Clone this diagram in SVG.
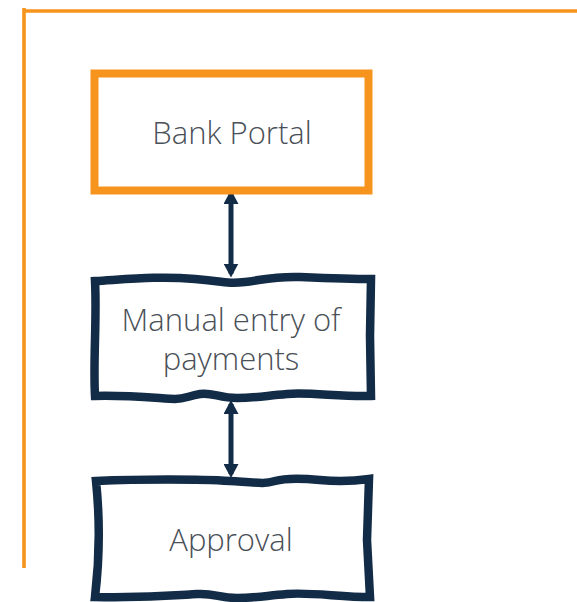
<svg xmlns="http://www.w3.org/2000/svg" width="577" height="602" viewBox="0 0 577 602">
  <defs>
    <style>
      .frame { fill: none; stroke: #f7941d; stroke-width: 3.6; }
      .portal { fill: #ffffff; stroke: #f7941d; stroke-width: 8; }
      .sketch { fill: #ffffff; stroke: #122b47; stroke-width: 8.5; stroke-linejoin: miter; }
      .label { font-family: "Open Sans", "Liberation Sans", sans-serif; font-weight: 300; font-size: 31px; fill: #4a5058; text-anchor: middle; }
      .link { stroke: #122b47; stroke-width: 5; fill: none; marker-start: url(#head); marker-end: url(#head); }
    </style>
    <marker id="head" viewBox="0 0 14 15" refX="10" refY="7.5" markerWidth="14" markerHeight="15" markerUnits="userSpaceOnUse" orient="auto-start-reverse">
      <path d="M0,0 L14,7.5 L0,15 Z" fill="#122b47"/>
    </marker>
  </defs>

  <!-- boundary lines (top and left) -->
  <g id="boundary">
    <path class="frame" d="M24,8 V568 M22.2,11 H577"/>
  </g>

  <!-- two-way links between the steps -->
  <g id="connectors">
    <line class="link" x1="231" y1="194" x2="231" y2="273.5"/>
    <line class="link" x1="231" y1="404" x2="231" y2="474"/>
  </g>

  <g id="bank-portal">
    <rect class="portal" x="94.5" y="73.5" width="274" height="117"/>
    <text class="label" x="232" y="144">Bank Portal</text>
  </g>

  <g id="manual-entry">
    <path class="sketch" d="M95,281 C130,279 160,276 195,279 S228,284 245,282 S275,276 300,277 S350,279 371,279 L370,336 L371,396 C340,397 310,392 287,394 S255,398 237,398 S212,392 200,394 S185,399 175,399 S130,395 95,396 C93,360 97,320 95,281 Z"/>
    <text class="label" x="231" y="331">Manual entry of</text>
    <text class="label" x="231" y="370">payments</text>
  </g>

  <g id="approval">
    <path class="sketch" d="M96,481 C140,479 200,479 230,481 S265,484 275,481 S300,478 320,480 S355,481 369,479 L367,540 L370,597 C340,597 310,592 287,594 S255,598 237,598 S215,593 197,594 S150,598 95,597 Q102,539 96,481 Z"/>
    <text class="label" x="231" y="551">Approval</text>
  </g>
</svg>
